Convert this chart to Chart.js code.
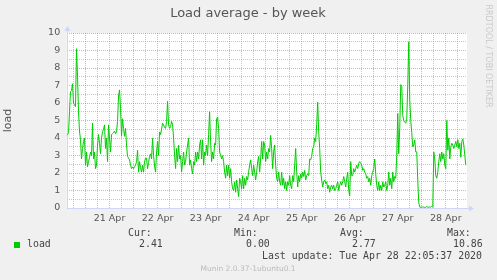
<!DOCTYPE html>
<html>
<head>
<meta charset="utf-8">
<script src="https://cdn.jsdelivr.net/npm/chart.js@4/dist/chart.umd.min.js"></script>
<style>
  html, body { margin: 0; padding: 0; background: #F0F0F0; }
  canvas { display: block; }
</style>
</head>
<body>
<canvas id="grafico" width="497" height="280"></canvas>
<script>
// one sample every 30 min, hour 0 = 21 Apr 00:00
const firstHour = -9.5;
const stepHours = 0.5;
const load = [
  4.15, 4.2, 4.3, 5.5, 6.65, 6.7, 7.1, 6.0, 5.9, 5.8, 9.1, 7.6,
  5.5, 4.4, 3.9, 2.8, 3.4, 3.8, 4.0, 2.45, 3.2, 2.35, 2.65, 2.9,
  3.2, 3.0, 4.85, 2.8, 3.2, 2.25, 2.45, 3.6, 4.2, 3.7, 3.1, 4.0,
  4.35, 4.5, 4.75, 3.4, 4.0, 2.65, 4.75, 4.0, 3.2, 4.2, 4.25, 4.3,
  4.4, 4.25, 4.35, 4.95, 6.4, 6.75, 5.7, 4.1, 5.1, 4.55, 4.1, 4.55,
  3.6, 2.95, 2.85, 2.75, 2.45, 2.25, 2.35, 2.25, 2.35, 2.45, 2.65, 3.3,
  2.05, 2.65, 2.3, 2.05, 2.45, 2.05, 2.65, 2.85, 2.85, 2.25, 2.6, 2.95,
  3.1, 2.8, 4.0, 3.0, 2.4, 2.05, 3.2, 3.8, 3.0, 4.35, 4.2, 4.5,
  4.85, 4.75, 4.6, 4.55, 4.95, 6.1, 4.75, 4.55, 4.65, 4.95, 4.75, 4.0,
  3.0, 2.25, 3.4, 2.65, 3.6, 2.8, 3.0, 2.05, 2.65, 3.2, 2.45, 2.65,
  3.2, 3.6, 4.0, 2.45, 2.75, 2.25, 1.95, 2.65, 2.45, 3.2, 2.65, 3.2,
  2.8, 3.6, 3.9, 2.8, 3.9, 2.45, 3.2, 3.0, 3.6, 3.0, 4.2, 5.5,
  3.8, 2.65, 3.2, 2.8, 3.7, 3.6, 5.1, 5.2, 4.55, 3.2, 3.0, 2.8,
  3.0, 2.65, 2.05, 1.7, 2.45, 1.85, 2.45, 1.7, 2.25, 1.5, 1.1, 1.0,
  1.5, 0.9, 1.6, 1.1, 0.65, 1.7, 1.5, 1.1, 1.85, 1.1, 1.7, 1.3,
  1.8, 1.6, 2.05, 2.45, 2.75, 2.25, 1.85, 2.45, 2.05, 1.6, 2.05, 2.65,
  2.95, 2.05, 2.8, 3.8, 2.8, 3.8, 3.6, 2.65, 3.2, 2.8, 3.4, 3.2,
  4.15, 3.4, 2.25, 3.2, 3.6, 2.45, 1.7, 1.5, 2.05, 1.5, 1.3, 2.05,
  1.3, 1.7, 1.1, 1.5, 1.0, 1.5, 1.3, 1.85, 1.3, 1.1, 1.85, 1.5,
  2.45, 3.4, 2.05, 1.2, 1.85, 1.5, 1.95, 1.7, 2.05, 1.8, 2.15, 1.6,
  1.85, 1.95, 1.85, 2.8, 2.75, 2.95, 3.4, 3.5, 4.0, 3.8, 4.75, 6.05,
  4.35, 3.4, 2.05, 1.6, 1.2, 1.5, 1.6, 1.4, 1.5, 1.1, 1.3, 0.9,
  1.2, 1.3, 1.1, 1.3, 1.0, 1.1, 1.3, 1.5, 1.0, 1.3, 1.5, 1.3,
  1.5, 1.8, 1.5, 1.2, 1.7, 2.05, 1.0, 0.7, 2.65, 1.85, 1.85, 2.25,
  2.05, 2.25, 2.45, 2.25, 2.55, 2.65, 2.55, 2.45, 2.15, 2.25, 2.05, 1.95,
  1.7, 1.8, 1.5, 1.7, 1.3, 1.85, 2.05, 2.25, 2.8, 1.95, 1.3, 1.0,
  1.5, 1.0, 1.3, 1.0, 1.5, 1.2, 1.3, 1.5, 1.0, 1.3, 2.05, 1.3,
  1.7, 1.1, 2.05, 1.5, 1.8, 1.7, 3.0, 5.4, 3.1, 4.6, 7.05, 6.95,
  5.3, 5.0, 4.9, 4.85, 5.1, 7.0, 9.5, 6.2, 5.0, 4.3, 3.5, 3.6,
  3.9, 3.2, 3.2, 1.6, 0.3, 0.05, 0.04, 0.05, 0.06, 0.05, 0.03, 0.05,
  0.08, 0.05, 0.04, 0.06, 0.05, 0.1, 0.05, 3.2, 2.8, 1.85, 1.7, 2.05,
  2.65, 3.1, 2.65, 3.2, 2.8, 3.1, 2.45, 2.25, 5.0, 3.3, 4.0, 2.8,
  3.5, 3.7, 3.6, 3.4, 3.6, 3.8, 3.5, 3.9, 3.4, 3.7, 2.9, 3.8,
  3.95, 3.6, 3.0, 2.45
];
const dayLabels = ['21 Apr', '22 Apr', '23 Apr', '24 Apr', '25 Apr', '26 Apr', '27 Apr', '28 Apr'];
const legendHeads = ['Cur:', 'Min:', 'Avg:', 'Max:'];
const legendValues = ['2.41', '0.00', '2.77', '10.86'];
const serieName = 'load';
const lastUpdate = 'Last update: Tue Apr 28 22:05:37 2020';
const versao = 'Munin 2.0.37-1ubuntu0.1';

const pontos = load.map((v, i) => ({ x: firstHour + i * stepHours, y: v }));

const corEixo = '#CFD6F8';
const gridMaior = 'rgba(222,79,79,0.5)';
const gridMenor = 'rgba(143,143,143,0.5)';

const decoracao = {
  id: 'decoracao',
  beforeDraw(chart) {
    const { ctx, chartArea: a } = chart;
    ctx.save();
    ctx.fillStyle = '#FFFFFF';
    ctx.fillRect(a.left, a.top, a.right - a.left, a.bottom - a.top);
    ctx.restore();
  },
  beforeDatasetsDraw(chart) {
    const { ctx, chartArea: a } = chart;
    const x0 = Math.round(a.left) + 0.5;
    const y0 = Math.round(a.bottom) + 0.5;
    ctx.save();
    ctx.strokeStyle = corEixo;
    ctx.fillStyle = corEixo;
    ctx.lineWidth = 1;
    ctx.beginPath();
    ctx.moveTo(x0, y0);
    ctx.lineTo(x0, a.top - 3);
    ctx.moveTo(x0, y0);
    ctx.lineTo(a.right + 3, y0);
    ctx.stroke();
    ctx.beginPath();
    ctx.moveTo(x0 - 3, a.top - 2);
    ctx.lineTo(x0 + 3, a.top - 2);
    ctx.lineTo(x0, a.top - 7);
    ctx.closePath();
    ctx.fill();
    ctx.beginPath();
    ctx.moveTo(a.right + 2, y0 - 3);
    ctx.lineTo(a.right + 2, y0 + 3);
    ctx.lineTo(a.right + 7, y0);
    ctx.closePath();
    ctx.fill();
    ctx.restore();
  },
  afterDraw(chart) {
    const { ctx } = chart;
    ctx.save();
    ctx.textBaseline = 'middle';

    ctx.fillStyle = '#555';
    ctx.textAlign = 'center';
    ctx.font = '13px "DejaVu Sans"';
    ctx.fillText('Load average - by week', 248, 13.5);

    // marca d'agua vertical
    ctx.save();
    ctx.translate(488.5, 56);
    ctx.rotate(Math.PI / 2);
    ctx.fillStyle = '#CACACA';
    ctx.font = '8px "DejaVu Sans"';
    ctx.fillText('RRDTOOL / TOBI OETIKER', 0, 0);
    ctx.restore();

    ctx.textAlign = 'left';
    ctx.font = '9.9px "DejaVu Sans Mono"';
    ctx.fillStyle = '#444';
    const colX = [128, 234, 340, 447];
    const valX = [139, 246, 352, 453];
    legendHeads.forEach((t, i) => ctx.fillText(t, colX[i], 233.5));
    legendValues.forEach((t, i) => ctx.fillText(t, valX[i], 244.5));
    ctx.fillText(serieName, 27, 244.5);
    ctx.fillText(lastUpdate, 262, 256.5);

    ctx.fillStyle = '#00CC00';
    ctx.fillRect(14, 242, 6, 6);

    ctx.textAlign = 'center';
    ctx.fillStyle = '#BBBBBB';
    ctx.font = '7.5px "DejaVu Sans"';
    ctx.fillText(versao, 248, 269.5);
    ctx.restore();
  }
};

new Chart(document.getElementById('grafico'), {
  type: 'line',
  data: {
    datasets: [{
      label: serieName,
      data: pontos,
      borderColor: '#00CC00',
      borderWidth: 1,
      pointRadius: 0,
      fill: false,
      tension: 0
    }]
  },
  options: {
    responsive: false,
    animation: false,
    devicePixelRatio: 1,
    layout: { padding: { top: 33, right: 30, bottom: 52, left: 0 } },
    plugins: { legend: { display: false }, tooltip: { enabled: false } },
    scales: {
      x: {
        type: 'linear',
        min: -9.4,
        max: 190.6,
        afterFit: s => { s.height = 20; },
        afterBuildTicks: s => {
          const t = [];
          for (let h = -6; h <= 186; h += 6) t.push({ value: h });
          s.ticks = t;
        },
        border: { display: false, dash: [1, 1] },
        grid: {
          drawTicks: false,
          color: c => (c.tick && c.tick.value % 24 === 0 ? gridMaior : gridMenor)
        },
        ticks: {
          autoSkip: false,
          maxRotation: 0,
          padding: 5,
          color: '#555',
          font: { family: 'DejaVu Sans', size: 9.5 },
          callback: v => (v % 24 === 12 ? dayLabels[(v - 12) / 24] : '')
        }
      },
      y: {
        min: 0,
        max: 10,
        afterFit: s => { s.width = 66.7; },
        afterBuildTicks: s => {
          const t = [];
          for (let k = 0; k <= 20; k++) t.push({ value: k / 2 });
          s.ticks = t;
        },
        border: { display: false, dash: [1, 1] },
        grid: {
          drawTicks: false,
          color: c => (c.tick && c.tick.value % 1 === 0 ? gridMaior : gridMenor)
        },
        ticks: {
          autoSkip: false,
          padding: 6.5,
          color: '#555',
          font: { family: 'DejaVu Sans', size: 9.5 },
          callback: v => (v % 1 === 0 ? String(v) : '')
        },
        title: {
          display: true,
          text: 'load',
          color: '#555',
          font: { family: 'DejaVu Sans', size: 11 },
          padding: { top: 2, bottom: 0 }
        }
      }
    }
  },
  plugins: [decoracao]
});
</script>
</body>
</html>
